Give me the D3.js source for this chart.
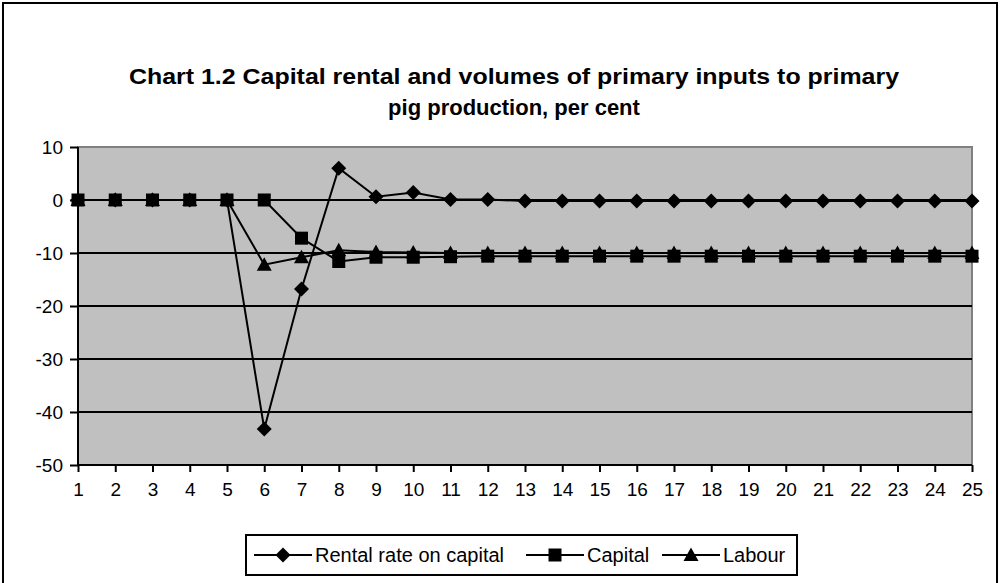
<!DOCTYPE html>
<html>
<head>
<meta charset="utf-8">
<script src="https://cdn.jsdelivr.net/npm/d3@7"></script>
<style>
  body { margin: 0; background: #fff; }
  svg { display: block; font-family: Arial, "Liberation Sans", sans-serif; }
</style>
</head>
<body>
<svg id="chart" width="1000" height="583"></svg>
<script>
// periods 1..25
var periods = d3.range(1, 26);

var rentalRate = [0, 0, 0, 0, 0, -43.2, -16.8, 6.0, 0.6, 1.4, 0.1, 0.1, -0.2, -0.2, -0.2,
                  -0.2, -0.2, -0.2, -0.2, -0.2, -0.2, -0.2, -0.2, -0.2, -0.2];
var capital = [0, 0, 0, 0, 0, 0, -7.2, -11.6, -10.8, -10.8, -10.7, -10.6, -10.6, -10.6, -10.6,
               -10.6, -10.6, -10.6, -10.6, -10.6, -10.6, -10.6, -10.6, -10.6, -10.6];
var labour = [0, 0, 0, 0, 0, -12.2, -10.8, -9.5, -9.8, -9.9, -10.0, -10.0, -10.0, -10.0, -10.0,
              -10.0, -10.0, -10.0, -10.0, -10.0, -10.0, -10.0, -10.0, -10.0, -10.0];
var yTicks = [10, 0, -10, -20, -30, -40, -50];

var seriesNames = ["Rental rate on capital", "Capital", "Labour"];
var titleLines = ["Chart 1.2 Capital rental and volumes of primary inputs to primary",
                  "pig production, per cent"];

var svg = d3.select("#chart");
var margin = {top: 147, left: 78, right: 28, bottom: 118};
var width = 1000 - margin.left - margin.right,
    height = 583 - margin.top - margin.bottom;

// outer chart frame
svg.append("rect")
    .attr("x", 3).attr("y", 3)
    .attr("width", 994).attr("height", 590)
    .attr("fill", "#fff")
    .attr("stroke", "#000")
    .attr("stroke-width", 2);

var title = svg.append("g").selectAll("text")
    .data(titleLines)
    .enter().append("text")
      .attr("x", 514)
      .attr("y", function(d, i) { return 84 + i * 31; })
      .attr("text-anchor", "middle")
      .style("font-weight", "bold")
      .style("font-size", "22px")
      .text(function(d) { return d; });
// first line is stretched wider in the original
title.filter(function(d, i) { return i == 0; })
    .attr("textLength", 770)
    .attr("lengthAdjust", "spacingAndGlyphs");

var x = d3.scalePoint().domain(periods).range([0, width]);
var y = d3.scaleLinear().domain([-50, 10]).range([height, 0]);

var g = svg.append("g").attr("transform", "translate(" + margin.left + "," + margin.top + ")");

g.append("rect")
    .attr("width", width).attr("height", height)
    .attr("fill", "#c0c0c0")
    .attr("stroke", "#808080")
    .attr("stroke-width", 2);

// gridlines
g.selectAll(".grid")
    .data(yTicks.filter(function(d) { return d != 10 && d != -50; }))
    .enter().append("line")
      .attr("x1", 0).attr("x2", width)
      .attr("y1", function(d) { return y(d); })
      .attr("y2", function(d) { return y(d); })
      .attr("stroke", "#000")
      .attr("stroke-width", 2);

var yAxis = g.append("g")
    .call(d3.axisLeft(y).tickValues(yTicks).tickSize(8).tickPadding(7)
      .tickFormat(function(d) { return String(d); }));
var xAxis = g.append("g")
    .attr("transform", "translate(0," + height + ")")
    .call(d3.axisBottom(x).tickSize(7).tickPadding(11));

[yAxis, xAxis].forEach(function(a) {
  a.select(".domain").attr("stroke", "#000").attr("stroke-width", 2);
  a.selectAll(".tick line").attr("stroke", "#000").attr("stroke-width", 2);
  a.selectAll("text").style("font-size", "19px").attr("fill", "#000")
      .style("font-family", "Arial, 'Liberation Sans', sans-serif");
});
xAxis.select(".domain").attr("d", "M0,0H" + width);
yAxis.select(".domain").attr("d", "M0,0V" + height);

var line = d3.line()
    .x(function(d, i) { return x(periods[i]); })
    .y(function(d) { return y(d); });

// marker shapes, size = width in px squared
var diamond = { draw: function(ctx, size) {
  var r = Math.sqrt(size) / 2;
  ctx.moveTo(0, -r); ctx.lineTo(r, 0); ctx.lineTo(0, r); ctx.lineTo(-r, 0); ctx.closePath();
}};
var square = { draw: function(ctx, size) {
  var r = Math.sqrt(size) / 2;
  ctx.rect(-r, -r, 2 * r, 2 * r);
}};
var triangle = { draw: function(ctx, size) {
  var r = Math.sqrt(size) / 2;
  ctx.moveTo(0, -r); ctx.lineTo(r, r * 0.8); ctx.lineTo(-r, r * 0.8); ctx.closePath();
}};
var symbols = [
  d3.symbol().type(diamond).size(15 * 15),
  d3.symbol().type(square).size(13 * 13),
  d3.symbol().type(triangle).size(15 * 15)
];
var allSeries = [rentalRate, capital, labour];

allSeries.forEach(function(data, s) {
  g.append("path")
      .datum(data)
      .attr("fill", "none")
      .attr("stroke", "#000")
      .attr("stroke-width", 2)
      .attr("d", line);
});
allSeries.forEach(function(data, s) {
  g.selectAll(".m" + s)
    .data(data)
    .enter().append("path")
      .attr("class", "m" + s)
      .attr("transform", function(d, i) { return "translate(" + x(periods[i]) + "," + y(d) + ")"; })
      .attr("d", symbols[s])
      .attr("fill", "#000");
});

// legend
var legend = svg.append("g").attr("transform", "translate(246,535)");
legend.append("rect")
    .attr("width", 551).attr("height", 40)
    .attr("fill", "#fff")
    .attr("stroke", "#000")
    .attr("stroke-width", 2);
var legendX = [8, 280, 416];
seriesNames.forEach(function(name, s) {
  var item = legend.append("g").attr("transform", "translate(" + legendX[s] + ",20)");
  item.append("line").attr("x1", 0).attr("x2", 58).attr("stroke", "#000").attr("stroke-width", 2);
  item.append("path").attr("transform", "translate(29,0)").attr("d", symbols[s]).attr("fill", "#000");
  item.append("text").attr("x", 61).attr("y", 7).style("font-size", "20px").text(name);
});
</script>
</body>
</html>
